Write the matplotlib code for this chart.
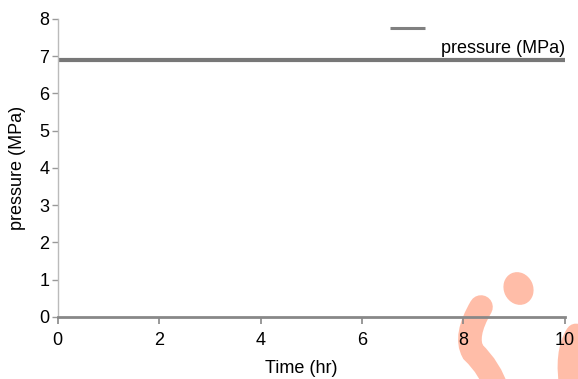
import matplotlib.pyplot as plt
from matplotlib.patches import Ellipse, PathPatch
from matplotlib.path import Path
from matplotlib.transforms import Affine2D

plt.rcParams['font.family'] = ['Liberation Sans', 'DejaVu Sans']

# Data
time = [0, 10]
pressure = [6.89, 6.89]
time_short = [6.55, 7.25]
pressure_short = [7.76, 7.76]
x_ticks = [0, 2, 4, 6, 8, 10]
y_ticks = [0, 1, 2, 3, 4, 5, 6, 7, 8]

W, H = 578, 379
fig = plt.figure(figsize=(W / 100, H / 100), dpi=100)
ax = fig.add_axes([0.0995, 0.1636, 0.878, 0.7864])
ax.patch.set_alpha(0)
ax.set_zorder(2)

# decorative orange shapes in the bottom right corner, in pixel coords (y down)
px = Affine2D().scale(1, -1).translate(0, H)
orange = '#ffbda8'
stroke = Path([(481, 307), (464, 336), (473, 352), (490, 368), (498, 392)],
              [Path.MOVETO, Path.CURVE3, Path.CURVE3, Path.CURVE3, Path.CURVE3])
fig.patches.append(PathPatch(stroke, transform=px, fill=False,
                             edgecolor=orange, lw=17, capstyle='round', zorder=0))
stroke2 = Path([(576, 334), (564, 352), (570, 390)],
               [Path.MOVETO, Path.CURVE3, Path.CURVE3])
fig.patches.append(PathPatch(stroke2, transform=px, fill=False,
                             edgecolor=orange, lw=15, capstyle='round', zorder=0))
fig.patches.append(Ellipse((518.5, 288.5), 28, 32, angle=-25,
                           transform=px, color=orange, zorder=0))

ax.plot(time, pressure, color='#777777', lw=3.0, solid_capstyle='butt')
ax.plot(time_short, pressure_short, color='#808080', lw=2.2, solid_capstyle='butt')
ax.text(10, 6.97, 'pressure (MPa)', ha='right', va='bottom', fontsize=13)

ax.set_xlim(0, 10)
ax.set_ylim(0, 8)
ax.set_xticks(x_ticks)
ax.set_yticks(y_ticks)
ax.set_xlabel('Time (hr)', fontsize=13)
ax.set_ylabel('pressure (MPa)', fontsize=13)
ax.xaxis.set_label_coords(0.48, -0.145)
ax.yaxis.set_label_coords(-0.062, 0.5)

for s in ['top', 'right']:
    ax.spines[s].set_visible(False)
ax.spines['bottom'].set_color('#888888')
ax.spines['bottom'].set_linewidth(2)
ax.spines['left'].set_color('#bbbbbb')
ax.spines['left'].set_linewidth(1)
ax.tick_params(axis='x', length=5, width=1.2, color='#888888', labelsize=13, pad=6)
ax.tick_params(axis='y', length=4, width=1, color='#999999', labelsize=13, pad=2)

fig.savefig('out.png', dpi=100)
